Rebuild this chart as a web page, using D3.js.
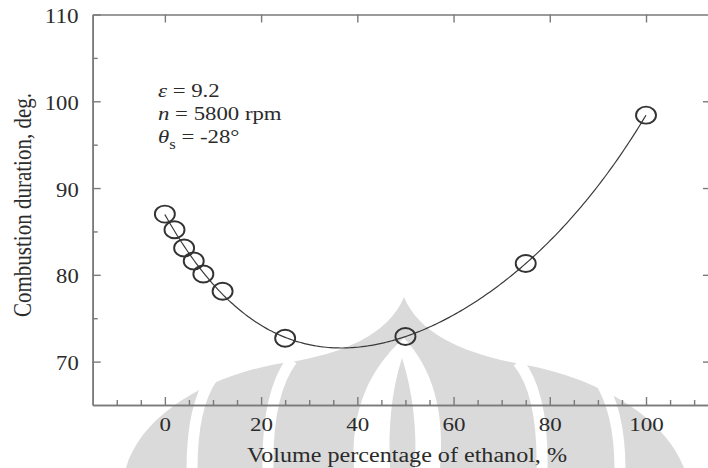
<!DOCTYPE html>
<html>
<head>
<meta charset="utf-8">
<script src="https://cdn.jsdelivr.net/npm/d3@7"></script>
<style>
  html, body { margin: 0; padding: 0; background: #fff; }
  svg { display: block; }
  text { font-family: "Liberation Serif", "Times New Roman", serif; fill: #2b2b2b; }
</style>
</head>
<body>
<svg id="chart" width="708" height="468"></svg>
<script>
// Ethanol blend (vol %) vs. combustion duration (crank-angle degrees)
const ethanol  = [0, 2, 4, 6, 8, 12, 25, 50, 75, 100];
const duration = [87.0, 85.2, 83.1, 81.6, 80.1, 78.1, 72.7, 72.9, 81.3, 98.4];

const xMajorTicks = [0, 20, 40, 60, 80, 100];
const xMinorTicks = [-10, -5, 5, 10, 15, 25, 30, 35, 45, 50, 55, 65, 70, 75, 85, 90, 95, 105, 110];
const yMajorTicks = [70, 80, 90, 100, 110];
const yMinorTicks = [75, 85, 95, 105];

const xTitle = "Volume percentage of ethanol, %";
const yTitle = "Combustion duration, deg.";

const svg = d3.select("#chart");

const x = d3.scaleLinear().domain([-15, 113.3]).range([92.7, 710]);
const y = d3.scaleLinear().domain([65, 110]).range([405, 14.5]);

// --- faint emblem in the background ---
const emblem = svg.append("g").attr("class", "emblem");
const grey = "#dadada";
emblem.append("path")
  .attr("fill", grey)
  .attr("d", "M126,468 C142,412 215,372 290,362 C340,354 388,336 404,297 C420,336 468,354 520,364 C592,376 664,414 684,468 Z");
emblem.selectAll("path.band")
  .data([
    "M212,378 C198,398 192,430 192,470",
    "M598,378 C612,398 620,430 620,470",
    "M292,360 C274,384 267,420 268,470",
    "M518,362 C536,384 543,420 542,470"
  ])
  .join("path")
  .attr("class", "band")
  .attr("fill", "none")
  .attr("stroke", "#fff")
  .attr("stroke-width", 11)
  .attr("d", d => d);
emblem.append("path")
  .attr("fill", "#fff")
  .attr("d", "M404,338 C370,368 350,410 354,468 L440,468 C445,410 432,368 404,338 Z");
emblem.append("path")
  .attr("fill", grey)
  .attr("d", "M402,358 C391,392 388,430 390,468 L415,468 C417,430 413,392 402,358 Z");

// --- frame and axes ---
const axisColor = "#7a7a7a";
function styleAxis(g) {
  g.selectAll(".domain").attr("stroke", axisColor).attr("stroke-width", 1.6);
  g.selectAll(".tick line").attr("stroke", axisColor).attr("stroke-width", 1.4);
}

// bottom: minor + major ticks pointing inward
const axisBottomMinor = svg.append("g").attr("transform", `translate(0,${y(65)})`);
axisBottomMinor.call(d3.axisBottom(x).tickValues(xMinorTicks).tickSizeInner(-5).tickSizeOuter(0).tickFormat(""));
axisBottomMinor.call(styleAxis);
const axisBottomMajor = svg.append("g").attr("transform", `translate(0,${y(65)})`);
axisBottomMajor.call(d3.axisBottom(x).tickValues(xMajorTicks).tickSizeInner(-8).tickSizeOuter(0).tickFormat(d3.format("d")));
axisBottomMajor.call(styleAxis);
axisBottomMajor.selectAll(".tick text")
  .attr("y", 26).attr("dy", null)
  .attr("font-size", 18)
  .attr("fill", "#2b2b2b")
  .attr("font-family", "Liberation Serif, serif")
  .attr("textLength", d => String(d).length * 11.5)
  .attr("lengthAdjust", "spacingAndGlyphs");

// top: major ticks only
const axisTopMajor = svg.append("g").attr("transform", `translate(0,${y(110)})`);
axisTopMajor.call(d3.axisTop(x).tickValues(xMajorTicks).tickSizeInner(-8).tickSizeOuter(0).tickFormat(""));
axisTopMajor.call(styleAxis);

// left: minor + major ticks with labels
const axisLeftMinor = svg.append("g").attr("transform", `translate(${x(-15)},0)`);
axisLeftMinor.call(d3.axisLeft(y).tickValues(yMinorTicks).tickSizeInner(-5).tickSizeOuter(0).tickFormat(""));
axisLeftMinor.call(styleAxis);
const axisLeftMajor = svg.append("g").attr("transform", `translate(${x(-15)},0)`);
axisLeftMajor.call(d3.axisLeft(y).tickValues(yMajorTicks).tickSizeInner(-8).tickSizeOuter(0).tickFormat(d3.format("d")));
axisLeftMajor.call(styleAxis);
axisLeftMajor.selectAll(".tick text")
  .attr("x", -14).attr("dy", null).attr("y", 8)
  .attr("font-size", 20)
  .attr("fill", "#2b2b2b")
  .attr("font-family", "Liberation Serif, serif")
  .attr("textLength", d => String(d).length * 11.3)
  .attr("lengthAdjust", "spacingAndGlyphs");

// right: major ticks pointing inward
const axisRightMajor = svg.append("g").attr("transform", `translate(${x(113.3)},0)`);
axisRightMajor.call(d3.axisRight(y).tickValues(yMajorTicks.slice(0, 4)).tickSizeInner(-7).tickSizeOuter(0).tickFormat(""));
axisRightMajor.call(styleAxis);

// --- axis titles ---
svg.append("text")
  .attr("x", 407).attr("y", 461.5)
  .attr("text-anchor", "middle")
  .attr("font-size", 20)
  .attr("textLength", 320)
  .attr("lengthAdjust", "spacingAndGlyphs")
  .text(xTitle);

svg.append("text")
  .attr("transform", "translate(31,205) scale(1.2,1) rotate(-90)")
  .attr("text-anchor", "middle")
  .attr("font-size", 21)
  .text(yTitle);

// --- fitted trend curve (least-squares polynomial through the measurements) ---
function polyfit(xs, ys, deg) {
  const n = deg + 1;
  const A = Array.from({ length: n }, () => new Array(n + 1).fill(0));
  xs.forEach((xv, k) => {
    const t = xv / 100;
    for (let i = 0; i < n; i++) {
      for (let j = 0; j < n; j++) A[i][j] += Math.pow(t, i + j);
      A[i][n] += ys[k] * Math.pow(t, i);
    }
  });
  for (let c = 0; c < n; c++) {
    let p = c;
    for (let r = c + 1; r < n; r++) if (Math.abs(A[r][c]) > Math.abs(A[p][c])) p = r;
    [A[c], A[p]] = [A[p], A[c]];
    for (let r = 0; r < n; r++) {
      if (r === c) continue;
      const f = A[r][c] / A[c][c];
      for (let k = c; k <= n; k++) A[r][k] -= f * A[c][k];
    }
  }
  const coef = A.map((row, i) => row[n] / row[i]);
  return xv => coef.reduce((s, c, i) => s + c * Math.pow(xv / 100, i), 0);
}
const fit = polyfit(ethanol, duration, 4);
const curvePts = d3.range(0, 100.001, 0.5).map(v => [v, fit(v)]);

svg.append("path")
  .datum(curvePts)
  .attr("fill", "none")
  .attr("stroke", "#3a3a3a")
  .attr("stroke-width", 1.2)
  .attr("d", d3.line().x(d => x(d[0])).y(d => y(d[1])).curve(d3.curveMonotoneX));

// --- measured points ---
svg.append("g")
  .selectAll("ellipse")
  .data(ethanol.map((e, i) => ({ e, v: duration[i] })))
  .join("ellipse")
  .attr("cx", d => x(d.e))
  .attr("cy", d => y(d.v))
  .attr("rx", 10)
  .attr("ry", 8.5)
  .attr("fill", "none")
  .attr("stroke", "#333")
  .attr("stroke-width", 1.9);

// --- operating conditions ---
const note = svg.append("g").attr("transform", "translate(158,0) scale(1.2,1)");
note.append("text").attr("x", 0).attr("y", 97).attr("font-size", 19)
  .call(t => {
    t.append("tspan").attr("font-style", "italic").text("ε");
    t.append("tspan").text(" = 9.2");
  });
note.append("text").attr("x", 0).attr("y", 120.5).attr("font-size", 19)
  .call(t => {
    t.append("tspan").attr("font-style", "italic").text("n");
    t.append("tspan").text(" = 5800 rpm");
  });
note.append("text").attr("x", 0).attr("y", 143.5).attr("font-size", 19)
  .call(t => {
    t.append("tspan").attr("font-style", "italic").text("θ");
    t.append("tspan").attr("font-size", 14).attr("dy", 6).text("s");
    t.append("tspan").attr("dy", -6).text(" = -28°");
  });
</script>
</body>
</html>
